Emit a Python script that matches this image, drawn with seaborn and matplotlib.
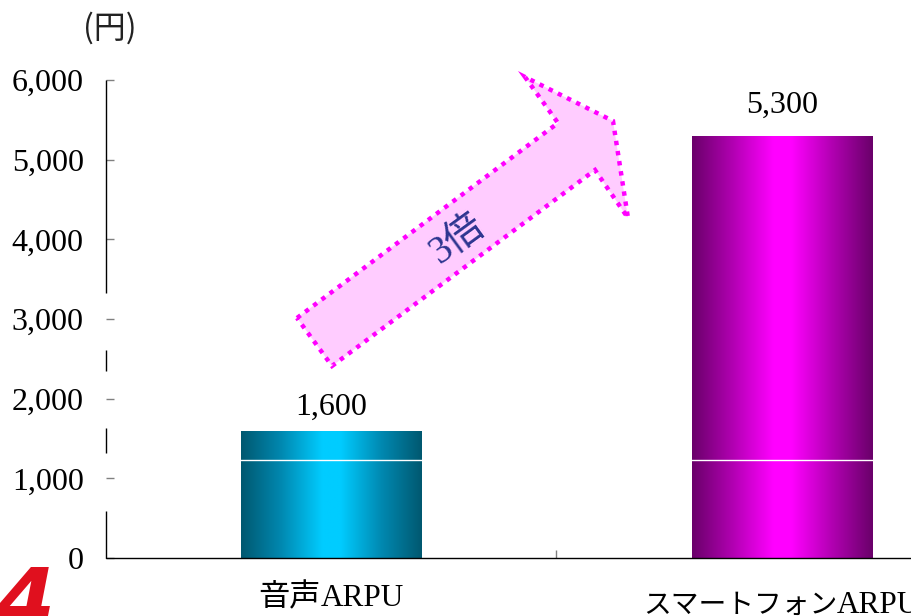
import re
import numpy as np
import pandas as pd
import matplotlib
matplotlib.use("Agg")
import matplotlib.pyplot as plt
import matplotlib.transforms as mtransforms
from matplotlib.colors import LinearSegmentedColormap
from matplotlib.patches import Polygon
from matplotlib.ticker import FuncFormatter, FixedLocator
from matplotlib.offsetbox import TextArea, HPacker, AnnotationBbox
import seaborn as sns

# ARPU per user (yen)
categories = ["音声ARPU", "スマートフォンARPU"]
values = [1600, 5300]
y_ticks = [0, 1000, 2000, 3000, 4000, 5000, 6000]
unit_label = "(円)"
ratio_label = "3倍"

sns.set_theme(style="white")
plt.rcParams["font.family"] = ["Liberation Serif", "Noto Sans CJK JP"]
plt.rcParams["text.color"] = "black"
plt.rcParams["xtick.color"] = "black"
plt.rcParams["ytick.color"] = "black"

W, H = 912, 616
FS = 23
fig = plt.figure(figsize=(W / 100, H / 100), dpi=100)
ax = fig.add_axes([106 / W, 58 / H, 901 / W, 478 / H])

df = pd.DataFrame({"item": categories, "arpu": values})
bar_colors = ["#00b4e0", "#d000d0"]
sns.barplot(data=df, x="item", y="arpu", hue="item", palette=bar_colors,
            legend=False, width=0.4, ax=ax, saturation=1)

# horizontal metallic shading on each bar
shades = [
    ["#005870", "#0088b0", "#00ccff", "#00ccff", "#0088b0", "#005870"],
    ["#6a006a", "#b000b0", "#ff00ff", "#ff00ff", "#b000b0", "#6a006a"],
]
grad = np.linspace(0, 1, 256).reshape(1, -1)
for patch, cols in zip(ax.patches, shades):
    x0, w, h = patch.get_x(), patch.get_width(), patch.get_height()
    cmap = LinearSegmentedColormap.from_list(
        "shade", list(zip([0, 0.22, 0.45, 0.55, 0.78, 1], cols)))
    im = ax.imshow(grad, extent=[x0, x0 + w, 0, h], cmap=cmap,
                   aspect="auto", zorder=patch.get_zorder() + 0.1,
                   interpolation="bilinear")
    im.set_clip_path(patch)

ax.set_xlim(-0.5, 1.5)
ax.set_ylim(0, 6000)

# thin white band across the bars
ax.axhline(1230, color="white", lw=1.0, zorder=5)

# value labels above bars
label_offsets = [11.5, 16.5]
for i, (v, off) in enumerate(zip(values, label_offsets)):
    ax.annotate(f"{v:,}", xy=(i, v), xytext=(0, off),
                textcoords="offset points", ha="center", va="baseline",
                fontsize=FS, color="black")

# category labels under the axis: Japanese part and Latin part packed
# side by side so the kana can be set a little narrower
cat_offsets = [-28.0, -34.0]
prefix_sizes = [22.5, 20.0]
for i, (c, off, psize) in enumerate(zip(categories, cat_offsets, prefix_sizes)):
    m = re.match(r"^(.*?)([A-Za-z]+)$", c)
    pre, suf = m.group(1), m.group(2)
    pack = HPacker(children=[
        TextArea(pre, textprops=dict(fontsize=psize, color="black",
                                     family=["Noto Sans CJK JP"])),
        TextArea(suf, textprops=dict(fontsize=FS - 0.5, color="black",
                                     family=["Liberation Serif"])),
    ], sep=0, pad=0, align="baseline")
    ab = AnnotationBbox(pack, xy=(i, 0), xycoords=("data", "axes fraction"),
                        xybox=(0, off), boxcoords="offset points",
                        box_alignment=(0.5, 0.5), frameon=False,
                        annotation_clip=False, pad=0)
    ax.add_artist(ab)

# axes styling
for s in ax.spines.values():
    s.set_visible(False)
ax.set_xlabel("")
ax.set_ylabel("")
ax.set_xticks([])
ax.xaxis.set_minor_locator(FixedLocator([0.5]))
ax.tick_params(axis="x", which="minor", direction="in", length=6,
               width=1, color="#808080", bottom=True)
ax.set_yticks(y_ticks)
ax.yaxis.set_major_formatter(FuncFormatter(lambda v, p: f"{int(v):,}"))
ax.tick_params(axis="y", direction="in", length=6, width=1,
               color="#808080", pad=16, labelsize=FS, labelcolor="black",
               left=True)

# broken left axis line and bottom axis line
yaxis_trans = mtransforms.blended_transform_factory(ax.transAxes, ax.transData)
for y0, y1 in [(0, 590), (1317, 1631), (2346, 2610), (3325, 6000)]:
    ax.plot([0, 0], [y0, y1], transform=yaxis_trans, color="black",
            lw=1.0, clip_on=False, zorder=6, solid_capstyle="butt")
ax.plot([0, 1], [0, 0], transform=ax.transAxes, color="black", lw=1.0,
        clip_on=False, zorder=6)

# growth arrow (figure pixel coordinates)
arrow_px = [(297, 318), (558, 123), (525, 77), (613, 121), (628, 218),
            (595, 170), (332, 366)]
arrow_pts = [(x / W, 1 - y / H) for x, y in arrow_px]
arrow = Polygon(arrow_pts, closed=True, transform=fig.transFigure,
                facecolor="#ffccff", edgecolor="#ff00ff", lw=3.2,
                linestyle=(0, (1, 1.3)), zorder=7)
fig.patches.append(arrow)
fig.text(457 / W, 1 - 240 / H, ratio_label, rotation=36, ha="center",
         va="center", fontsize=28, color="#2d3590",
         rotation_mode="anchor", zorder=8)

# unit label
fig.text(110 / W, 1 - 28 / H, unit_label, ha="center", va="center",
         fontsize=23, family=["Noto Sans CJK JP"], color="#222222")

# corner logo
fig.text(-4 / W, -12 / H, "4", ha="left", va="baseline", fontsize=60,
         fontweight="bold", style="oblique", color="#e0101e",
         family=["DejaVu Sans"])

fig.savefig("out.png", dpi=100)
